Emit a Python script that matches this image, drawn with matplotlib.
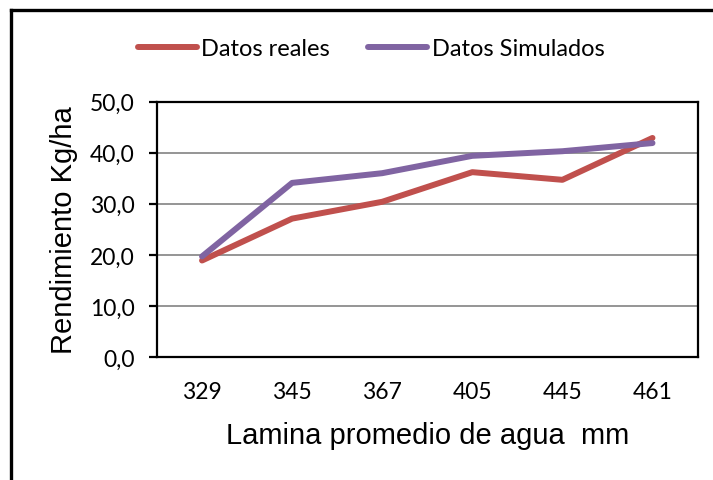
import matplotlib.pyplot as plt
from matplotlib.lines import Line2D
import numpy as np

# datos del grafico
laminas = ['329', '345', '367', '405', '445', '461']
datos_reales = [18.9, 27.1, 30.4, 36.2, 34.7, 42.9]
datos_simulados = [19.7, 34.1, 36.0, 39.4, 40.3, 41.9]
marcas_y = [0, 10, 20, 30, 40, 50]

rojo = '#C0504D'
morado = '#8064A2'
fuente = 'Lato'

fig = plt.figure(figsize=(7.13, 4.81), dpi=100)
ax = fig.add_axes([0.2202, 0.2557, 0.7581, 0.5308])

x = np.arange(len(laminas))
ax.plot(x, datos_reales, color=rojo, lw=4.3, solid_capstyle='round',
        solid_joinstyle='round', label='Datos reales')
ax.plot(x, datos_simulados, color=morado, lw=4.3, solid_capstyle='round',
        solid_joinstyle='round', label='Datos Simulados')

ax.set_xlim(-0.5, len(laminas) - 0.5)
ax.set_ylim(0, 50)
ax.set_yticks(marcas_y)
ax.set_yticklabels([('%.1f' % v).replace('.', ',') for v in marcas_y])
ax.set_xticks(x)
ax.set_xticklabels(laminas)

ax.yaxis.grid(True, color='#8c8c8c', lw=1.3)
ax.set_axisbelow(True)
for s in ax.spines.values():
    s.set_linewidth(1.6)
    s.set_color('black')

ax.tick_params(axis='y', length=6, width=1.6, direction='out', pad=10)
ax.tick_params(axis='x', length=0, pad=17)
for t in ax.get_xticklabels() + ax.get_yticklabels():
    t.set_fontfamily(fuente)
    t.set_fontsize(16.5)

ax.set_xlabel('Lamina promedio de agua  mm', fontfamily='Liberation Sans',
              fontsize=21, labelpad=14)
ax.set_ylabel('Rendimiento Kg/ha', fontfamily='Liberation Sans',
              fontsize=21, labelpad=9)

fig.legend(loc='center', bbox_to_anchor=(371 / 713, 1 - 50 / 481),
           ncol=2, frameon=False, handlelength=2.5, handletextpad=0.2,
           columnspacing=1.6, prop={'family': fuente, 'size': 17})

# marco exterior (izquierda y arriba)
fig.add_artist(Line2D([10.5 / 713, 10.5 / 713], [0, 1 - 10.5 / 481],
                      transform=fig.transFigure, color='black', lw=2.4))
fig.add_artist(Line2D([10.5 / 713, 1], [1 - 10.5 / 481, 1 - 10.5 / 481],
                      transform=fig.transFigure, color='black', lw=2.4))

fig.savefig('out.png', dpi=100)
